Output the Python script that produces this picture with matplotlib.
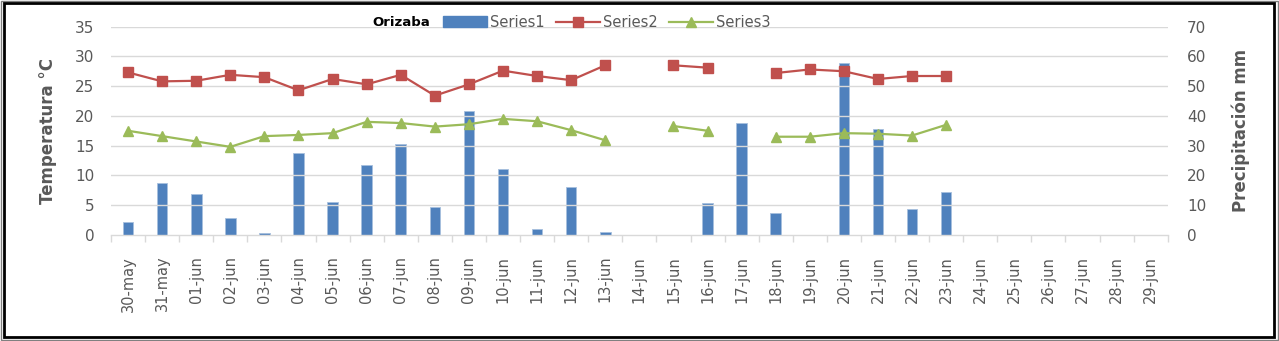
import matplotlib
matplotlib.use("Agg")
import matplotlib.pyplot as plt
import numpy as np
from matplotlib.patches import Rectangle
from matplotlib.lines import Line2D

DATES = [
    "30-may", "31-may", "01-jun", "02-jun", "03-jun", "04-jun", "05-jun",
    "06-jun", "07-jun", "08-jun", "09-jun", "10-jun", "11-jun", "12-jun",
    "13-jun", "14-jun", "15-jun", "16-jun", "17-jun", "18-jun", "19-jun",
    "20-jun", "21-jun", "22-jun", "23-jun", "24-jun", "25-jun", "26-jun",
    "27-jun", "28-jun", "29-jun",
]

nan = np.nan

# Series1: precipitation (mm, right axis)
SERIES1 = [4.5, 17.6, 13.9, 5.6, 0.7, 27.7, 11.0, 23.5, 30.6, 9.3, 41.6,
           22.3, 2.1, 16.0, 0.9, 0, 0, 10.9, 37.7, 7.5, 0, 57.8, 35.6,
           8.8, 14.5, nan, nan, nan, nan, nan, nan]

# Series2: max temperature (°C, left axis)
SERIES2 = [27.3, 25.8, 25.9, 26.9, 26.5, 24.3, 26.2, 25.3, 26.9, 23.4,
           25.3, 27.6, 26.7, 26.0, 28.5, nan, 28.5, 28.1, nan, 27.2, 27.8,
           27.5, 26.2, 26.7, 26.7, nan, nan, nan, nan, nan, nan]

# Series3: min temperature (°C, left axis)
SERIES3 = [17.5, 16.6, 15.7, 14.8, 16.6, 16.8, 17.1, 19.0, 18.8, 18.2,
           18.6, 19.5, 19.1, 17.6, 15.9, nan, 18.3, 17.5, nan, 16.5, 16.5,
           17.1, 17.0, 16.7, 18.5, nan, nan, nan, nan, nan, nan]

BLUE = "#4F81BD"
RED = "#C0504D"
GREEN = "#9BBB59"
GRAY = "#595959"
GRID = "#D9D9D9"

x = np.arange(len(DATES))

fig = plt.figure(figsize=(12.79, 3.41), dpi=100)
ax = fig.add_axes([0.0868, 0.311, 0.8262, 0.611])
ax2 = ax.twinx()

ax.set_zorder(ax2.get_zorder() + 1)
ax.patch.set_visible(False)

ax2.bar(x, SERIES1, width=0.31, color=BLUE, edgecolor="#A7BFDE",
        linewidth=0.6, zorder=2)
ax.plot(x, SERIES2, color=RED, linewidth=1.6, marker="s", markersize=7,
        zorder=3)
ax.plot(x, SERIES3, color=GREEN, linewidth=1.6, marker="^", markersize=7.5,
        zorder=3)

ax.set_xlim(-0.5, len(DATES) - 0.5)
ax.set_ylim(0, 35)
ax2.set_ylim(0, 70)
ax.set_yticks(np.arange(0, 36, 5))
ax2.set_yticks(np.arange(0, 71, 10))

ax2.grid(False)
for v in np.arange(5, 36, 5):
    ax.axhline(v, color=GRID, linewidth=1.0, zorder=0)

for a in (ax, ax2):
    for side in ("top", "left", "right"):
        a.spines[side].set_visible(False)
ax2.spines["bottom"].set_visible(False)
ax.spines["bottom"].set_color(GRID)
ax.spines["bottom"].set_linewidth(1.0)

ax.set_xticks(x)
ax.set_xticklabels(DATES, rotation=90, fontsize=10.5, color=GRAY)
ax.set_xticks(np.arange(-0.5, len(DATES), 1), minor=True)
ax.tick_params(axis="x", which="major", length=0, pad=15)
ax.tick_params(axis="x", which="minor", length=5, color=GRID, width=1)
ax.tick_params(axis="y", length=0, labelsize=11, labelcolor=GRAY, pad=12)
ax2.tick_params(axis="y", length=0, labelsize=11, labelcolor=GRAY, pad=14)

ax.set_ylabel("Temperatura °C", fontsize=12, fontweight="bold", color=GRAY,
              labelpad=13)
ax2.set_ylabel("Precipitación mm", fontsize=12, fontweight="bold",
               color=GRAY, labelpad=18)

fig.text(0.291, 0.935, "Orizaba", fontsize=9.5, fontweight="bold",
         color="black", va="center")

handles = [
    Rectangle((0, 0), 1, 1, color=BLUE),
    Line2D([], [], color=RED, marker="s", markersize=7, linewidth=1.6),
    Line2D([], [], color=GREEN, marker="^", markersize=7.5, linewidth=1.6),
]
fig.legend(handles, ["Series1", "Series2", "Series3"], loc="center left",
           bbox_to_anchor=(0.342, 0.935), ncol=3, frameon=False,
           fontsize=10.5, labelcolor=GRAY, handlelength=3.0,
           handletextpad=0.2, columnspacing=0.8, borderaxespad=0)

# figure frame
fig.patches.append(Rectangle((0.001, 0.002), 0.998, 0.996,
                             transform=fig.transFigure, fill=False,
                             edgecolor="#808080", linewidth=1.0))
fig.patches.append(Rectangle((0.003, 0.012), 0.993, 0.98,
                             transform=fig.transFigure, fill=False,
                             edgecolor="black", linewidth=2.0))

fig.savefig("out.png", dpi=100)
